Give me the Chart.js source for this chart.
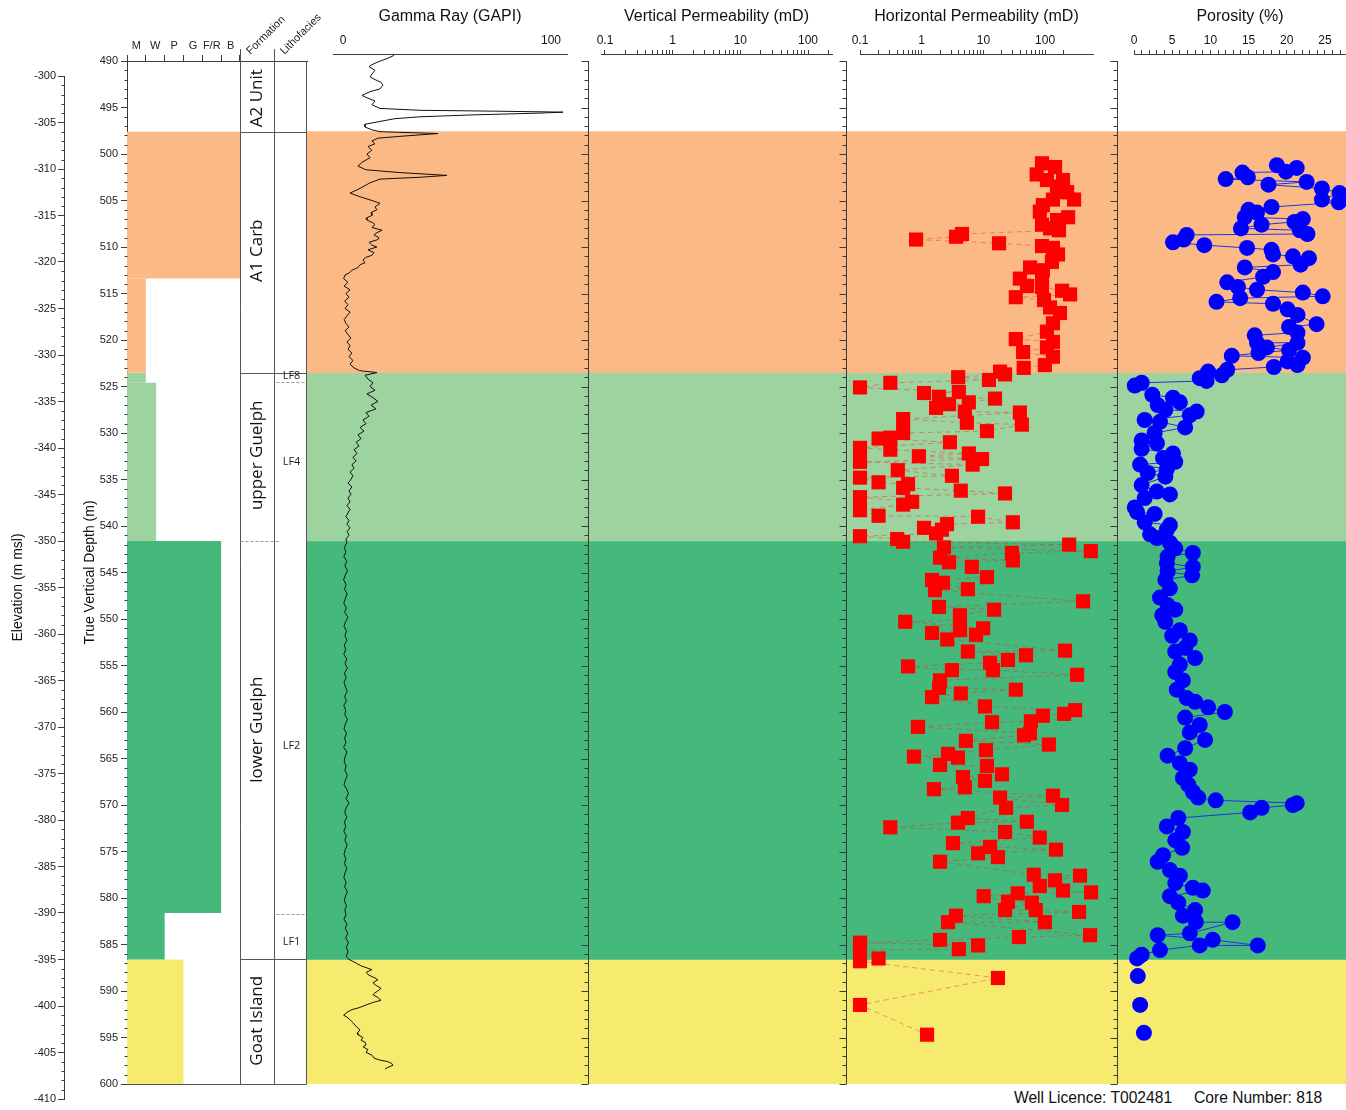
<!DOCTYPE html>
<html>
<head>
<meta charset="utf-8">
<title>Core 818 - well log</title>
<script src="https://cdn.jsdelivr.net/npm/chart.js@4.4.1/dist/chart.umd.min.js"></script>
<style>
  html, body { margin: 0; padding: 0; background: #fff; }
  #page { position: relative; width: 1346px; height: 1110px; overflow: hidden; }
  #page canvas { position: absolute; top: 0; }
  .foot { position: absolute; top: 1089px; font: 15.6px Arial, "Liberation Sans", sans-serif; color: #111; white-space: nowrap; }
</style>
</head>
<body>
<div id="page">
  <div class="foot" style="left:1014px">Well Licence: T002481</div>
  <div class="foot" style="left:1194px">Core Number: 818</div>
</div>
<script>
const lithoClasses = ['M', 'W', 'P', 'G', 'F/R', 'B'];

const zoneTops  = [497.6, 523.5, 541.6, 586.6];
const zoneBases = [523.5, 541.6, 586.6, 600];

// lithology column: interval top/base and the grain class it reaches
const lithoTops  = [497.6, 513.4, 523.5, 524.6, 541.6, 581.6, 586.6];
const lithoBases = [513.4, 523.5, 524.6, 541.6, 581.6, 586.6, 600];
const lithoGrain = [6, 1, 1, 1.55, 5, 2, 3];
const lithoZone  = [0, 0, 1, 1, 2, 2, 3];

const formationNames = ['A2 Unit', 'A1 Carb', 'upper Guelph', 'lower Guelph', 'Goat Island'];
const formationLabelDepth = [494.0, 510.4, 532.4, 561.9, 593.2];
const formationContacts = [497.6, 523.5, 541.6, 586.6];
const contactDashed = [false, false, true, false];

const faciesNames = ['LF8', 'LF4', 'LF2', 'LF1'];
const faciesLabelDepth = [523.9, 533.1, 563.6, 584.7];
const faciesBreaks = [524.5, 581.7];

const gammaTicks = [0, 100];
const vPermTicks = [0.1,0.2,0.3,0.4,0.5,0.6,0.7,0.8,0.9,1,2,3,4,5,6,7,8,9,10,20,30,40,50,60,70,80,90,100,200];
const hPermTicks = vPermTicks;
const porosityTicks = [0,1,2,3,4,5,6,7,8,9,10,11,12,13,14,15,16,17,18,19,20,21,22,23,24,25,26,27];

// [depth m, GAPI]
const gammaRay = [
  [489.4,24.5],[489.7,21.6],[490.1,16.8],[490.4,13.9],[490.6,12.5],[491.0,15.4],[491.4,13.9],[491.7,13.0],[492.0,15.4],[492.3,18.3],
  [492.6,19.2],[493.0,17.8],[493.3,13.0],[493.7,9.1],[494.0,12.0],[494.3,15.4],[494.7,13.9],[495.1,17.8],[495.3,37.0],[495.4,75.5],
  [495.5,105.8],[495.6,94.7],[495.8,61.5],[496.0,37.0],[496.2,25.0],[496.5,17.8],[496.8,10.6],[497.1,10.6],[497.4,13.9],[497.6,17.8],
  [497.8,45.7],[498.1,27.4],[498.3,16.8],[498.6,13.9],[498.9,15.4],[499.2,12.0],[499.6,13.9],[500.0,11.5],[500.4,13.0],[500.9,9.1],
  [501.3,7.2],[501.7,11.1],[502.0,27.4],[502.3,50.0],[502.5,37.0],[502.7,17.8],[503.1,13.0],[503.7,8.2],[504.2,3.4],[504.6,8.2],
  [505.0,13.9],[505.3,17.8],[505.7,15.4],[506.0,16.3],[506.3,13.5],[506.6,13.9],[506.9,11.1],[507.1,11.5],[507.4,14.4],[507.6,15.4],
  [507.9,13.9],[508.2,18.8],[508.5,15.9],[508.7,14.9],[509.0,17.3],[509.2,16.8],[509.5,12.5],[509.8,13.9],[510.0,16.3],[510.3,12.0],
  [510.6,14.9],[510.9,13.9],[511.1,11.1],[511.4,9.6],[511.7,10.6],[511.9,8.2],[512.2,7.2],[512.5,4.3],[512.8,2.9],[513.0,1.0],
  [513.4,0.3],[513.8,2.4],[514.2,0.5],[514.6,3.4],[515.0,1.4],[515.4,2.9],[515.8,0.8],[516.2,2.4],[516.6,1.0],[517.0,3.4],
  [517.4,1.9],[517.8,0.6],[518.2,1.4],[518.6,2.9],[519.0,1.0],[519.4,2.4],[519.8,3.8],[520.2,1.9],[520.6,3.4],[521.0,2.4],
  [521.4,4.3],[521.8,2.9],[522.2,4.8],[522.6,3.4],[523.0,5.3],[523.3,8.0],[523.5,16.3],[523.8,10.6],[524.2,12.0],[524.6,14.4],
  [525.0,13.0],[525.4,15.4],[525.8,11.5],[526.2,14.4],[526.6,16.8],[527.0,13.5],[527.4,15.9],[527.8,11.1],[528.2,12.5],[528.6,9.6],
  [529.0,11.1],[529.4,8.2],[529.8,10.1],[530.2,7.2],[530.6,8.7],[531.0,6.3],[531.4,7.7],[531.8,5.3],[532.2,6.8],[532.6,4.8],
  [533.0,6.3],[533.4,4.3],[533.8,5.3],[534.2,3.4],[534.6,4.8],[535.0,3.8],[535.4,2.4],[535.8,4.3],[536.2,2.9],[536.6,3.8],
  [537.0,2.4],[537.4,3.4],[537.8,1.9],[538.2,3.4],[538.6,2.4],[539.0,1.4],[539.4,2.9],[539.8,1.9],[540.2,3.4],[540.6,2.0],
  [541.0,2.9],[541.4,1.4],[541.8,1.9],[542.3,0.6],[542.8,1.4],[543.3,0.4],[543.8,1.8],[544.3,0.9],[544.8,2.2],[545.3,1.0],
  [545.8,0.3],[546.3,1.5],[546.8,0.7],[547.3,2.0],[547.8,1.1],[548.3,0.4],[548.8,1.6],[549.3,0.8],[549.8,2.4],[550.3,1.2],
  [550.8,0.5],[551.3,1.7],[551.8,0.9],[552.3,1.9],[552.8,0.6],[553.3,1.3],[553.8,0.4],[554.3,1.8],[554.8,1.0],[555.3,2.1],
  [555.8,0.7],[556.3,1.5],[556.8,0.5],[557.3,1.2],[557.8,2.0],[558.3,0.8],[558.8,1.6],[559.3,0.4],[559.8,1.3],[560.3,0.9],
  [560.8,2.2],[561.3,1.1],[561.8,0.5],[562.3,1.7],[562.8,0.8],[563.3,1.4],[563.8,0.3],[564.3,1.9],[564.8,1.0],[565.3,0.6],
  [565.8,1.5],[566.3,0.9],[566.8,2.1],[567.3,1.2],[567.8,0.5],[568.3,1.8],[568.8,2.6],[569.3,1.4],[569.8,2.9],[570.3,1.5],
  [570.8,0.8],[571.3,1.9],[571.8,0.7],[572.3,1.3],[572.8,0.4],[573.3,1.6],[573.8,0.9],[574.3,2.0],[574.8,1.1],[575.3,0.5],
  [575.8,1.4],[576.3,0.7],[576.8,1.8],[577.3,1.0],[577.8,0.4],[578.3,1.5],[578.8,0.8],[579.3,2.1],[579.8,1.2],[580.3,0.6],
  [580.8,1.7],[581.3,0.9],[581.8,1.4],[582.3,0.5],[582.8,1.9],[583.3,1.1],[583.8,2.3],[584.3,1.3],[584.8,2.6],[585.3,1.6],
  [585.8,2.4],[586.3,1.5],[586.6,2.9],[587.0,6.3],[587.3,8.7],[587.7,13.9],[588.0,11.1],[588.3,12.5],[588.6,15.4],[588.8,16.8],
  [589.1,14.4],[589.4,15.9],[589.7,18.3],[589.9,17.3],[590.2,15.4],[590.4,14.4],[590.7,16.8],[591.0,18.3],[591.2,14.9],[591.5,11.1],
  [591.8,7.7],[592.0,4.3],[592.3,1.9],[592.6,0.3],[592.8,1.9],[593.1,3.4],[593.4,4.8],[593.7,5.8],[594.0,7.2],[594.2,8.2],
  [594.5,6.8],[594.7,7.2],[595.0,9.6],[595.3,8.7],[595.5,10.6],[595.8,11.1],[596.0,9.6],[596.3,12.0],[596.6,11.1],[596.9,13.9],
  [597.2,14.9],[597.4,17.3],[597.6,21.6],[597.8,23.5],[598.0,24.0],[598.2,21.6],[598.4,20.2]
];

// no vertical permeability measured on this core
const verticalPerm = [];

// [depth m, mD]
const horizPerm = [
  [501.0,89],[501.4,145],[502.2,73],[502.8,107],[502.8,195],[503.5,156],[504.1,227],[504.9,295],[504.9,134],[505.5,92],
  [506.2,82],[506.8,236],[507.1,156],[507.6,89],[508.0,120],[508.2,168],[508.6,4.5],[508.9,3.6],[509.2,0.81],[509.6,17.9],
  [509.9,89],[510.1,134],[510.8,162],[511.6,129],[512.2,57],[512.5,92],[513.3,89],[513.4,39],[514.2,51],[514.3,89],
  [514.7,188],[515.1,254],[515.4,33.5],[515.7,96],[516.5,120],[517.1,174],[518.2,134],[519.1,107],[519.9,33.5],[520.2,134],
  [520.8,107],[521.3,44],[521.8,134],[522.7,99],[523.0,45],[523.4,18.6],[523.7,22.4],[524.0,3.9],[524.3,12.3],[524.6,0.31],
  [525.1,0.1],[525.6,4.0],[525.7,1.09],[526.1,1.91],[526.3,15.4],[526.7,5.8],[526.9,2.77],[527.3,1.71],[527.7,5.0],[527.8,39],
  [528.5,0.5],[528.9,5.4],[529.1,42],[529.8,11.4],[530.0,0.5],[530.5,0.31],[530.6,0.2],[531.0,2.87],[531.6,0.1],[531.8,0.31],
  [532.2,5.8],[532.5,0.9],[532.8,9.5],[533.1,0.1],[533.4,6.7],[534.0,0.41],[534.6,3.09],[534.8,0.1],[535.3,0.2],[535.5,0.6],
  [535.9,0.5],[536.2,4.3],[536.5,22.4],[536.9,0.1],[537.4,0.7],[537.7,0.5],[538.3,0.1],[538.9,0.2],[539.0,8.2],[539.6,30],
  [539.8,2.57],[540.2,1.09],[540.4,2.13],[540.8,1.71],[541.1,0.1],[541.4,0.4],[541.7,0.5],[542.0,245],[542.3,2.29],[542.7,550],
  [542.9,29],[543.4,1.98],[543.7,30],[543.9,2.77],[544.4,6.5],[545.5,11.4],[545.8,1.47],[546.1,2.21],[546.8,5.6],[546.9,1.64],
  [548.1,412],[548.7,1.91],[549.0,14.9],[549.6,4.17],[550.1,4.17],[550.3,0.54],[551.0,9.9],[551.2,4.17],[551.5,1.47],[551.7,7.6],
  [552.2,2.6],[553.4,210],[553.5,5.6],[553.9,49],[554.4,25],[554.7,12.8],[555.1,0.6],[555.5,3.09],[555.5,14.3],[556.0,330],
  [556.6,1.98],[557.4,1.91],[557.6,33.5],[558.0,4.3],[558.4,1.47],[559.4,10.6],[559.8,306],[560.2,203],[560.4,92],[561.0,58.8],
  [561.1,13.8],[561.6,0.87],[562.3,56.7],[562.5,45.4],[563.1,5.2],[563.5,115],[564.1,11],[564.5,2.67],[564.8,0.75],[564.9,3.87],
  [565.7,1.98],[565.8,11.4],[566.7,20],[567.0,4.66],[567.4,10.6],[568.1,5.0],[568.3,1.58],[569.0,134],[569.2,18.6],[570.0,188],
  [570.3,23.3],[571.4,5.6],[571.8,50.6],[571.9,3.87],[572.4,0.31],[572.9,22.4],[573.5,82],[574.1,3.21],[574.5,12.8],[574.8,150],
  [575.2,8.2],[575.6,17.2],[576.1,1.98],[577.5,65.5],[577.6,368],[578.1,145],[578.7,82],[579.2,195],[579.4,555],[579.5,36],
  [579.8,10.1],[580.4,25],[580.5,61],[581.3,22.4],[581.3,70.7],[581.5,355],[581.9,3.59],[582.6,99],[582.6,2.67],[584.0,535],
  [584.2,37.6],[584.5,1.98],[584.8,0.1],[585.1,8.2],[585.5,4.0],[585.6,0.1],[586.5,0.2],[586.8,0.1],[588.6,17.2],[591.5,0.1],
  [594.7,1.22]
];

// [depth m, %]
const porosity = [
  [501.2,18.7],[501.5,21.3],[501.9,19.9],[502.0,14.2],[502.5,14.9],[502.7,12.0],[503.0,22.6],[503.3,17.6],[503.7,24.6],[504.2,26.9],
  [504.9,24.6],[505.2,26.8],[505.7,18.0],[506.0,15.0],[506.3,16.1],[506.8,14.5],[507.0,22.1],[507.3,21.0],[507.6,16.7],[508.0,14.0],
  [508.2,21.7],[508.6,22.7],[508.7,6.9],[509.2,6.5],[509.5,5.1],[509.8,9.2],[510.1,14.8],[510.3,18.0],[510.8,18.2],[511.0,20.8],
  [511.2,22.9],[511.9,21.8],[512.2,14.5],[512.7,18.2],[513.2,16.9],[513.8,12.2],[514.3,13.6],[514.6,16.1],[514.9,22.1],[515.3,24.7],
  [515.5,13.9],[515.9,10.8],[516.1,18.2],[516.7,20.1],[517.3,21.4],[518.3,23.9],[518.6,20.3],[519.2,21.4],[519.5,15.8],[520.3,16.1],
  [520.3,21.4],[520.8,17.4],[521.1,20.3],[521.4,16.3],[521.7,12.8],[521.9,22.1],[522.3,20.1],[522.7,21.4],[522.9,18.3],[523.2,12.2],
  [523.4,9.7],[523.8,11.5],[524.1,8.6],[524.4,9.5],[524.6,1.0],[524.9,0.1],[525.9,2.4],[526.2,5.1],[526.7,6.0],[527.0,3.1],
  [527.5,4.1],[527.7,8.2],[528.1,7.3],[528.6,1.4],[528.8,3.4],[529.4,6.7],[530.0,2.7],[530.8,1.0],[531.1,3.0],[531.7,1.0],
  [532.2,5.1],[532.7,3.8],[533.1,5.4],[533.4,0.8],[533.9,4.3],[534.3,1.8],[534.7,4.1],[535.6,1.0],[536.3,3.0],[536.6,4.7],
  [537.0,1.4],[538.0,0.1],[538.5,0.4],[538.7,2.7],[539.6,1.4],[539.9,4.7],[540.4,4.3],[540.9,2.1],[541.3,3.0],[541.8,4.7],
  [542.4,5.4],[542.9,7.7],[543.3,4.4],[544.0,4.3],[544.4,7.7],[544.9,4.4],[545.3,7.6],[545.8,4.1],[546.7,4.7],[547.7,3.4],
  [548.5,4.4],[549.0,5.4],[549.6,3.7],[550.3,4.1],[551.2,6.0],[551.8,5.0],[552.3,7.3],[553.1,6.7],[553.5,5.4],[554.2,8.0],
  [554.9,6.0],[555.7,5.4],[556.6,6.4],[557.6,5.6],[558.5,6.9],[558.9,8.0],[559.5,9.7],[560.0,11.9],[560.6,6.7],[561.4,8.6],
  [562.2,7.3],[563.0,9.3],[563.9,6.7],[564.7,4.4],[565.5,6.0],[566.2,7.3],[567.1,6.4],[567.8,7.1],[568.6,7.7],[569.2,8.4],
  [569.5,10.7],[569.8,21.3],[570.0,20.8],[570.3,16.7],[570.8,15.2],[571.4,5.8],[572.3,4.3],[572.9,6.4],[573.8,5.4],[574.6,6.3],
  [575.4,3.8],[576.1,3.1],[577.0,4.7],[577.6,6.0],[578.4,5.4],[578.9,7.7],[579.2,9.0],[579.8,4.7],[580.5,5.8],[581.3,8.0],
  [581.9,6.4],[582.6,8.1],[582.6,12.9],[583.8,7.3],[584.0,3.1],[584.5,10.3],[585.1,16.2],[585.1,8.6],[585.6,3.4],[586.1,1.0],
  [586.5,0.4]
];
// isolated plugs below the Guelph
const porosityGoatIsland = [[588.4,0.5],[591.5,0.8],[594.5,1.3]];

// ---------------- styling / layout ----------------
const zoneColors = ['#FBBA85', '#9DD39E', '#45B97C', '#F6EB6F'];
const PAGE_H = 1110;
const DEPTH_TOP_PX = 61, DEPTH_BOTTOM_PX = 1084;
const PX_PER_M = (DEPTH_BOTTOM_PX - DEPTH_TOP_PX) / 110;
const TRACK_AXIS_PX = 54;                       // top axes sit a little above the 490 m line
const TRACK_DEPTH_MIN = 490 - (DEPTH_TOP_PX - TRACK_AXIS_PX) / PX_PER_M;
const LITHO_X_MAX = 180 / (113 / 6);            // litho column + formation + facies columns

Chart.defaults.font.family = 'Arial, "Liberation Sans", sans-serif';
Chart.defaults.color = '#111';

const ink = '#3a3a3a';

function makeCanvas(id, left, width) {
    const c = document.createElement('canvas');
    c.id = id;
    c.width = width;
    c.height = PAGE_H;
    c.style.left = left + 'px';
    c.style.width = width + 'px';
    c.style.height = PAGE_H + 'px';
    document.getElementById('page').appendChild(c);
    return c;
}

// minor depth ticks (and optional spine) on a depth scale
const depthTicks = {
    id: 'depthTicks',
    afterDraw(chart, args, opts) {
        const ys = chart.scales.y;
        const ctx = chart.ctx;
        ctx.save();
        ctx.strokeStyle = ink;
        ctx.lineWidth = 1;
        ctx.beginPath();
        (opts.lines || []).forEach(l => {
            const x = Math.round(l.x) + 0.5;
            if (l.spine) {
                ctx.moveTo(x, ys.getPixelForValue(l.from));
                ctx.lineTo(x, ys.getPixelForValue(l.to));
            }
            for (let v = l.from; v <= l.to; v++) {
                const major = v % 5 === 0;
                if (major && !l.majorLen) continue;
                const len = major ? l.majorLen : l.minorLen;
                const y = Math.round(ys.getPixelForValue(v)) + 0.5;
                ctx.moveTo(x - len, y);
                ctx.lineTo(x, y);
            }
        });
        ctx.stroke();
        ctx.restore();
    }
};

// formation / lithofacies columns next to the lithology log
const columnTable = {
    id: 'columnTable',
    afterDraw(chart) {
        const {ctx, chartArea: a} = chart;
        const xs = chart.scales.x, ys = chart.scales.y;
        const lithoRight = Math.round(xs.getPixelForValue(6)) + 0.5;
        const formRight = lithoRight + 34;
        const right = Math.round(a.right) - 0.5;
        const bottom = Math.round(a.bottom) + 0.5;
        const Y = d => Math.round(ys.getPixelForValue(d)) + 0.5;

        ctx.save();
        ctx.strokeStyle = '#555';
        ctx.lineWidth = 1;
        ctx.beginPath();
        ctx.moveTo(lithoRight, 49); ctx.lineTo(lithoRight, bottom);
        ctx.moveTo(formRight, 49); ctx.lineTo(formRight, bottom);
        ctx.moveTo(right, a.top); ctx.lineTo(right, bottom);
        ctx.moveTo(a.left, bottom); ctx.lineTo(right, bottom);
        formationContacts.forEach((d, i) => {
            if (contactDashed[i]) return;
            ctx.moveTo(lithoRight, Y(d)); ctx.lineTo(right, Y(d));
        });
        ctx.stroke();

        ctx.strokeStyle = '#999';
        ctx.setLineDash([3, 2]);
        ctx.beginPath();
        formationContacts.forEach((d, i) => {
            if (!contactDashed[i]) return;
            ctx.moveTo(lithoRight, Y(d)); ctx.lineTo(formRight + 4, Y(d));
        });
        faciesBreaks.forEach(d => {
            ctx.moveTo(formRight + 2, Y(d)); ctx.lineTo(right, Y(d));
        });
        ctx.stroke();
        ctx.setLineDash([]);

        ctx.fillStyle = '#111';
        ctx.textAlign = 'center';
        ctx.textBaseline = 'middle';
        ctx.font = '17px "Open Sans", "Noto Sans", sans-serif';
        formationNames.forEach((name, i) => {
            ctx.save();
            ctx.translate((lithoRight + formRight) / 2, ys.getPixelForValue(formationLabelDepth[i]));
            ctx.rotate(-Math.PI / 2);
            ctx.fillText(name, 0, 0);
            ctx.restore();
        });
        ctx.font = '11px "Open Sans", "Noto Sans", sans-serif';
        ctx.fillStyle = '#222';
        faciesNames.forEach((name, i) => {
            ctx.fillText(name, (formRight + right) / 2 + 1, ys.getPixelForValue(faciesLabelDepth[i]));
        });

        ctx.font = '11px Arial, "Liberation Sans", sans-serif';
        ctx.textAlign = 'left';
        ctx.textBaseline = 'alphabetic';
        [['Formation', lithoRight + 10], ['Lithofacies', formRight + 10]].forEach(([t, x]) => {
            ctx.save();
            ctx.translate(x, 55);
            ctx.rotate(-Math.PI / 4);
            ctx.fillText(t, 0, 0);
            ctx.restore();
        });
        ctx.restore();
    }
};

function baseOptions(padding, scales, plugins) {
    return {
        responsive: false,
        animation: false,
        events: [],
        layout: { padding, autoPadding: false },
        plugins: Object.assign({ legend: { display: false }, tooltip: { enabled: false } }, plugins || {}),
        scales
    };
}

function trackAxis(type, min, max, title, tickValues, label, showTicks) {
    return {
        type, position: 'top', min, max,
        afterFit: s => { s.height = TRACK_AXIS_PX; },
        afterBuildTicks: s => { s.ticks = tickValues.map(v => ({ value: v })); },
        title: { display: true, text: title, color: '#111', font: { size: 16 }, padding: { top: 7, bottom: 0 } },
        ticks: { autoSkip: false, maxRotation: 0, minRotation: 0, color: '#111', font: { size: 12 },
                 padding: showTicks ? 2 : 6, callback: label },
        grid: { display: showTicks, drawTicks: showTicks, drawOnChartArea: false, tickLength: 4, color: ink },
        border: { display: true, color: ink }
    };
}

const trackDepth = { type: 'linear', reverse: true, min: TRACK_DEPTH_MIN, max: 600, display: false };
const logLabel = v => {
    const l = Math.log10(v);
    return Math.abs(l - Math.round(l)) < 1e-6 && v <= 100 ? (v < 1 ? v.toFixed(1) : String(v)) : '';
};
const toXY = arr => arr.map(([d, v]) => ({ x: v, y: d }));

// ---------------- zone bands behind the tracks ----------------
new Chart(makeCanvas('bandChart', 307, 1039), {
    type: 'bar',
    data: {
        labels: [''],
        datasets: zoneTops.map((t, i) => ({
            data: [[t, zoneBases[i]]],
            backgroundColor: zoneColors[i],
            barPercentage: 1, categoryPercentage: 1, grouped: false
        }))
    },
    options: baseOptions({ top: DEPTH_TOP_PX, bottom: PAGE_H - DEPTH_BOTTOM_PX, left: 0, right: 0 }, {
        x: { display: false },
        y: { type: 'linear', reverse: true, min: 490, max: 600, display: false }
    }, {
        depthTicks: { lines: [588, 846, 1117].map(x => ({ x: x - 307, from: 490, to: 600, spine: true, minorLen: 4, majorLen: 7 })) }
    }),
    plugins: [depthTicks]
});

// ---------------- depth axis, lithology, formation columns ----------------
new Chart(makeCanvas('lithoChart', 70, 270), {
    type: 'scatter',
    data: {
        datasets: lithoTops.map((t, i) => ({
            type: 'line',
            data: [{ x: 0, y: t }, { x: lithoGrain[i], y: t }, { x: lithoGrain[i], y: lithoBases[i] }, { x: 0, y: lithoBases[i] }],
            fill: 'shape', backgroundColor: zoneColors[lithoZone[i]], borderWidth: 0, pointRadius: 0, tension: 0
        }))
    },
    options: baseOptions({ top: 0, bottom: PAGE_H - DEPTH_BOTTOM_PX, left: 0, right: 33 }, {
        x: {
            type: 'linear', position: 'top', min: 0, max: LITHO_X_MAX,
            afterFit: s => { s.height = DEPTH_TOP_PX; },
            afterBuildTicks: s => { s.ticks = lithoClasses.map((c, i) => ({ value: i + 0.5 })); },
            ticks: { autoSkip: false, maxRotation: 0, minRotation: 0, font: { size: 11 }, color: '#222', padding: 2,
                     callback: (v, i) => lithoClasses[i] },
            grid: { offset: true, drawOnChartArea: false, tickLength: 6, color: ink },
            border: { color: ink }
        },
        y: {
            type: 'linear', reverse: true, min: 490, max: 600, position: 'left',
            afterFit: s => { s.width = 57; },
            ticks: { stepSize: 5, font: { size: 11 }, color: '#222', padding: 3 },
            grid: { drawOnChartArea: false, tickLength: 6, color: ink },
            border: { color: ink },
            title: { display: true, text: 'True Vertical Depth (m)', font: { size: 14 }, color: '#111', padding: { top: 12, bottom: 0 } }
        }
    }, {
        depthTicks: { lines: [{ x: 57, from: 490, to: 600, minorLen: 3, majorLen: 0 }] }
    }),
    plugins: [depthTicks, columnTable]
});

// ---------------- elevation axis ----------------
new Chart(makeCanvas('elevChart', 0, 70), {
    type: 'scatter',
    data: { datasets: [] },
    options: baseOptions({ top: 76, bottom: 11, left: 0, right: 0 }, {
        x: { display: false },
        y: {
            type: 'linear', min: -410, max: -300, position: 'left',
            afterFit: s => { s.width = 64; },
            ticks: { stepSize: 5, font: { size: 11 }, color: '#222', padding: 2 },
            grid: { drawOnChartArea: false, tickLength: 6, color: ink },
            border: { color: ink },
            title: { display: true, text: 'Elevation (m msl)', font: { size: 14 }, color: '#111', padding: { top: 10, bottom: 0 } }
        }
    }, {
        depthTicks: { lines: [{ x: 64, from: -410, to: -300, minorLen: 3, majorLen: 0 }] }
    }),
    plugins: [depthTicks]
});

// ---------------- gamma ray ----------------
new Chart(makeCanvas('gammaChart', 307, 281), {
    type: 'scatter',
    data: {
        datasets: [{
            data: toXY(gammaRay), showLine: true, borderColor: '#111', borderWidth: 1,
            pointRadius: 0, tension: 0, clip: false
        }]
    },
    options: baseOptions({ top: 0, bottom: PAGE_H - DEPTH_BOTTOM_PX, left: 26, right: 21 }, {
        x: trackAxis('linear', -4.8, 107.7, 'Gamma Ray (GAPI)', gammaTicks, v => String(v), false),
        y: trackDepth
    })
});

// ---------------- vertical permeability ----------------
new Chart(makeCanvas('kvChart', 588, 258), {
    type: 'scatter',
    data: { datasets: [{ data: toXY(verticalPerm), pointRadius: 10, pointStyle: 'rect', backgroundColor: '#ff0000' }] },
    options: baseOptions({ top: 0, bottom: PAGE_H - DEPTH_BOTTOM_PX, left: 13, right: 14 }, {
        x: trackAxis('logarithmic', 0.0873, 226, 'Vertical Permeability (mD)', vPermTicks, logLabel, true),
        y: trackDepth
    })
});

// ---------------- horizontal permeability ----------------
new Chart(makeCanvas('khChart', 846, 271), {
    type: 'scatter',
    data: {
        datasets: [{
            data: toXY(horizPerm), showLine: true,
            borderColor: 'rgba(235,45,45,0.45)', borderWidth: 1, borderDash: [5, 4],
            pointStyle: 'rect', pointRadius: 10, pointBackgroundColor: '#ff0000', pointBorderWidth: 0,
            tension: 0, clip: false
        }]
    },
    options: baseOptions({ top: 0, bottom: PAGE_H - DEPTH_BOTTOM_PX, left: 14, right: 24 }, {
        x: trackAxis('logarithmic', 0.1, 597, 'Horizontal Permeability (mD)', hPermTicks, logLabel, true),
        y: trackDepth
    })
});

// ---------------- porosity ----------------
new Chart(makeCanvas('phiChart', 1117, 229), {
    type: 'scatter',
    data: {
        datasets: [{
            data: toXY(porosity), showLine: true, borderColor: '#2233dd', borderWidth: 1,
            pointStyle: 'circle', pointRadius: 8, pointBackgroundColor: '#0000ff', pointBorderWidth: 0,
            tension: 0, clip: false
        }, {
            data: toXY(porosityGoatIsland), showLine: false,
            pointStyle: 'circle', pointRadius: 8, pointBackgroundColor: '#0000ff', pointBorderWidth: 0, clip: false
        }]
    },
    options: baseOptions({ top: 0, bottom: PAGE_H - DEPTH_BOTTOM_PX, left: 17, right: 0 }, {
        x: trackAxis('linear', 0, 27.75, 'Porosity (%)', porosityTicks, v => (v % 5 === 0 ? String(v) : ''), true),
        y: trackDepth
    })
});
</script>
</body>
</html>
